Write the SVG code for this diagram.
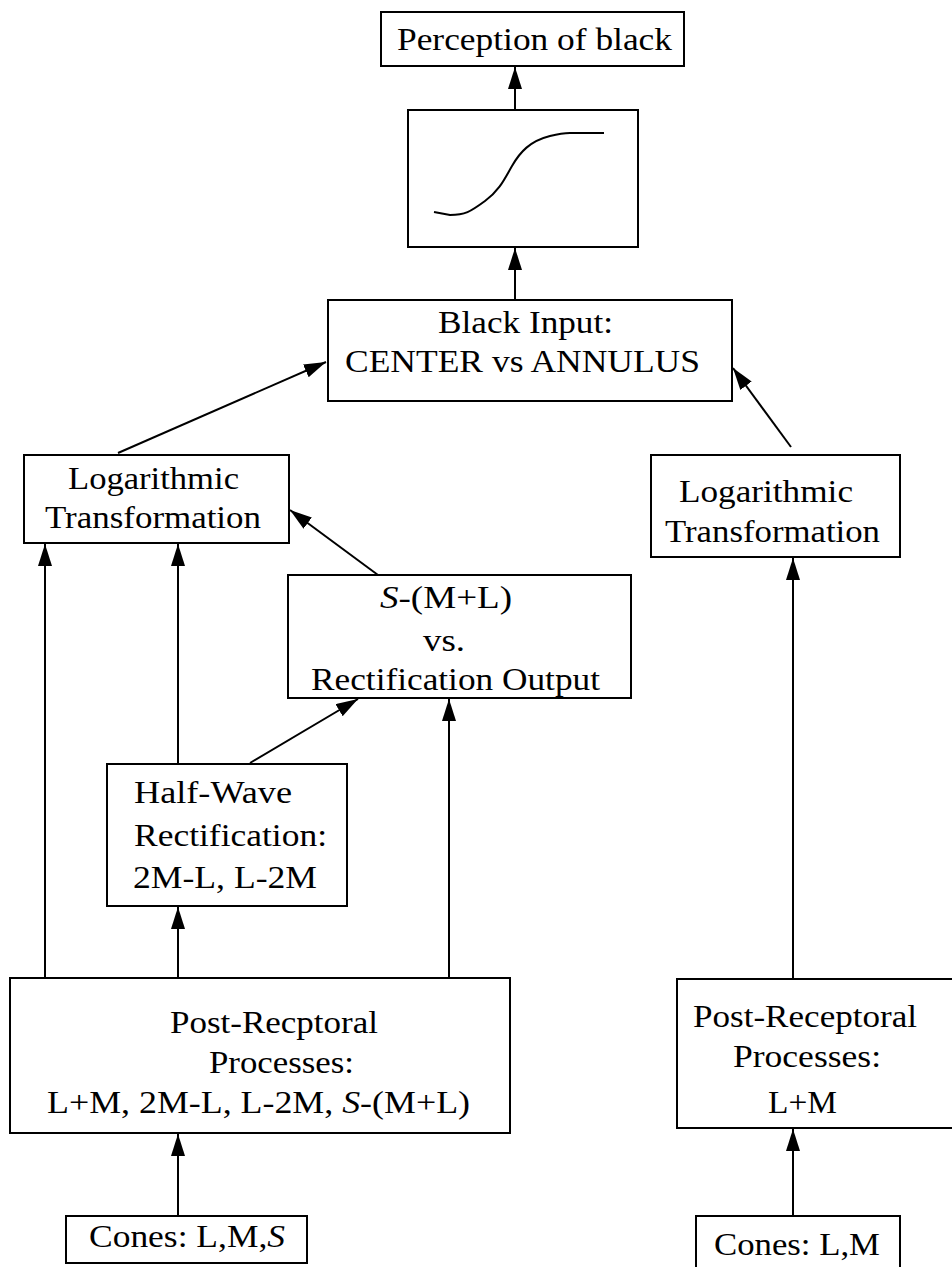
<svg xmlns="http://www.w3.org/2000/svg" width="952" height="1267" viewBox="0 0 952 1267">
<style>
.box{fill:#fff;stroke:#000;stroke-width:2}
.t{font-family:"Liberation Serif","Times New Roman",serif;font-size:32px;fill:#000}
.c{stroke:#000;stroke-width:2;fill:none}
.i{font-style:italic}
</style>
<defs>
<marker id="ah" markerUnits="userSpaceOnUse" markerWidth="22" markerHeight="14" refX="22" refY="7" orient="auto">
<path d="M0,0 L22,7 L0,14 z" fill="#000"/>
</marker>
</defs>
<rect width="952" height="1267" fill="#fff"/>
<g id="connectors">
<line class="c" x1="515" y1="110" x2="515" y2="67" marker-end="url(#ah)"/>
<line class="c" x1="515" y1="300" x2="515" y2="248" marker-end="url(#ah)"/>
<line class="c" x1="118" y1="453" x2="326" y2="362" marker-end="url(#ah)"/>
<line class="c" x1="791" y1="447" x2="733" y2="368" marker-end="url(#ah)"/>
<line class="c" x1="378" y1="575" x2="290" y2="510" marker-end="url(#ah)"/>
<line class="c" x1="250" y1="763" x2="358" y2="699" marker-end="url(#ah)"/>
<line class="c" x1="45" y1="978" x2="45" y2="544" marker-end="url(#ah)"/>
<line class="c" x1="178" y1="764" x2="178" y2="544" marker-end="url(#ah)"/>
<line class="c" x1="178" y1="978" x2="178" y2="907" marker-end="url(#ah)"/>
<line class="c" x1="449" y1="978" x2="449" y2="699" marker-end="url(#ah)"/>
<line class="c" x1="178" y1="1216" x2="178" y2="1134" marker-end="url(#ah)"/>
<line class="c" x1="793" y1="979" x2="793" y2="558" marker-end="url(#ah)"/>
<line class="c" x1="793" y1="1216" x2="793" y2="1129" marker-end="url(#ah)"/>
</g>
<g id="perception">
<rect class="box" x="381" y="12" width="303" height="54"/>
<text class="t" x="397" y="50" textLength="275" lengthAdjust="spacingAndGlyphs">Perception of black</text>
</g>
<g id="sigmoid">
<rect class="box" x="408" y="110" width="230" height="137"/>
<path class="c" d="M434,212 L450,215 C465,215 470,212 485,201 C500,190 505,178 512,166 C520,152 530,141 550,136 C558,134 562,133 570,133 L604,133"/>
</g>
<g id="black-input">
<rect class="box" x="328" y="300" width="404" height="101"/>
<text class="t" x="438" y="333" textLength="175" lengthAdjust="spacingAndGlyphs">Black Input:</text>
<text class="t" x="345" y="372" textLength="355" lengthAdjust="spacingAndGlyphs">CENTER vs ANNULUS</text>
</g>
<g id="log-left">
<rect class="box" x="24" y="455" width="265" height="88"/>
<text class="t" x="68" y="489" textLength="171" lengthAdjust="spacingAndGlyphs">Logarithmic</text>
<text class="t" x="45" y="528" textLength="216" lengthAdjust="spacingAndGlyphs">Transformation</text>
</g>
<g id="log-right">
<rect class="box" x="651" y="455" width="249" height="102"/>
<text class="t" x="679" y="502" textLength="174" lengthAdjust="spacingAndGlyphs">Logarithmic</text>
<text class="t" x="665" y="542" textLength="215" lengthAdjust="spacingAndGlyphs">Transformation</text>
</g>
<g id="s-vs-rect">
<rect class="box" x="288" y="575" width="343" height="123"/>
<text class="t" x="380" y="608" textLength="132" lengthAdjust="spacingAndGlyphs"><tspan class="i">S</tspan>-(M+L)</text>
<text class="t" x="423" y="651" textLength="42" lengthAdjust="spacingAndGlyphs">vs.</text>
<text class="t" x="311" y="690" textLength="289" lengthAdjust="spacingAndGlyphs">Rectification Output</text>
</g>
<g id="half-wave">
<rect class="box" x="107" y="764" width="240" height="142"/>
<text class="t" x="134" y="803" textLength="158" lengthAdjust="spacingAndGlyphs">Half-Wave</text>
<text class="t" x="134" y="846" textLength="193" lengthAdjust="spacingAndGlyphs">Rectification:</text>
<text class="t" x="133" y="888" textLength="184" lengthAdjust="spacingAndGlyphs">2M-L, L-2M</text>
</g>
<g id="post-left">
<rect class="box" x="10" y="978" width="500" height="155"/>
<text class="t" x="170" y="1033" textLength="208" lengthAdjust="spacingAndGlyphs">Post-Recptoral</text>
<text class="t" x="209" y="1073" textLength="145" lengthAdjust="spacingAndGlyphs">Processes:</text>
<text class="t" x="47" y="1113" textLength="423" lengthAdjust="spacingAndGlyphs">L+M, 2M-L, L-2M, <tspan class="i">S</tspan>-(M+L)</text>
</g>
<g id="post-right">
<rect class="box" x="677" y="979" width="280" height="149"/>
<text class="t" x="693" y="1027" textLength="224" lengthAdjust="spacingAndGlyphs">Post-Receptoral</text>
<text class="t" x="733" y="1067" textLength="148" lengthAdjust="spacingAndGlyphs">Processes:</text>
<text class="t" x="768" y="1113" textLength="69" lengthAdjust="spacingAndGlyphs">L+M</text>
</g>
<g id="cones-lms">
<rect class="box" x="66" y="1216" width="241" height="47"/>
<text class="t" x="89" y="1247" textLength="196" lengthAdjust="spacingAndGlyphs">Cones: L,M,<tspan class="i">S</tspan></text>
</g>
<g id="cones-lm">
<rect class="box" x="696" y="1216" width="204" height="60"/>
<text class="t" x="714" y="1255" textLength="166" lengthAdjust="spacingAndGlyphs">Cones: L,M</text>
</g>
</svg>
